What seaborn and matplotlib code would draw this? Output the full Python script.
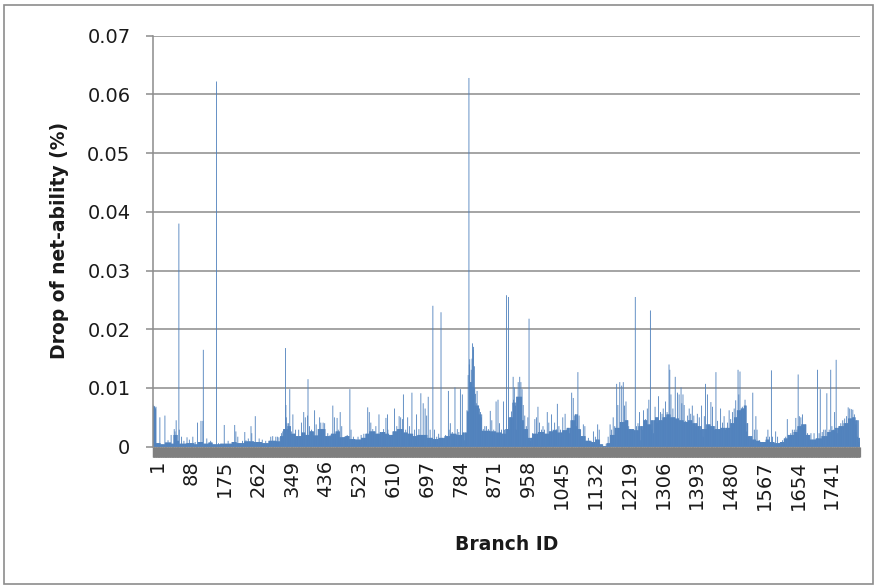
import numpy as np
import pandas as pd
import matplotlib
matplotlib.use("Agg")
import matplotlib.pyplot as plt
import seaborn as sns
from matplotlib.patches import Rectangle
import matplotlib.transforms as mtransforms

# ---------------- data (values in units of 1e-4 %) ----------------
N_BRANCH = 1824
tick_ids = list(range(1, 1742, 87))
y_ticks = [0, 0.01, 0.02, 0.03, 0.04, 0.05, 0.06, 0.07]
y_tick_labels = ["0", "0.01", "0.02", "0.03", "0.04", "0.05", "0.06", "0.07"]

# background level of consecutive runs of branches (run length, level)
run_lengths = [
    9, 11, 12, 15, 7, 8, 5, 20,
    20, 10, 12, 15, 10, 20,
    30, 12, 20, 25,
    20, 18, 20, 10, 8, 11,
    8, 12, 15, 10, 12, 10, 12, 8,
    10, 15, 12, 10, 15, 10, 15,
    15, 12, 10, 15, 12, 13, 10,
    10, 12, 15, 12, 13, 12, 13,
    12, 15, 15, 15, 15, 15,
    15, 12, 5, 8, 8, 10, 8, 21,
    15, 15, 10, 8, 10, 10, 14, 5,
    10, 12, 15, 15, 12, 12, 11,
    12, 12, 10, 10, 8, 8, 12, 15,
    10, 12, 8, 10, 8, 12, 14, 13,
    8, 15, 12, 12, 10, 10, 10, 10,
    10, 10, 10, 12, 10, 12, 12, 11,
    12, 12, 12, 10, 12, 15, 14,
    10, 10, 8, 10, 8, 6, 5, 10, 10, 10,
    15, 10, 12, 15, 10, 10, 15,
    10, 10, 12, 10, 15, 15, 15,
    10, 10, 10, 12, 12, 10, 8, 8, 4,
]
run_levels = [
    68, 6, 4, 7, 5, 20, 10, 5,
    6, 4, 8, 5, 7, 4,
    5, 8, 6, 9,
    8, 6, 10, 9, 18, 30,
    35, 22, 18, 24, 20, 26, 19, 30,
    30, 18, 22, 26, 16, 18, 13,
    12, 15, 22, 26, 22, 25, 22,
    20, 26, 30, 24, 22, 18, 20,
    20, 15, 13, 15, 18, 22,
    20, 24, 60, 110, 100, 70, 55, 27,
    26, 24, 22, 30, 50, 75, 85, 45,
    30, 15, 22, 25, 22, 26, 28,
    24, 28, 32, 45, 55, 30, 18, 10,
    8, 12, 4, 1, 6, 20, 32, 42,
    45, 30, 28, 35, 45, 38, 45, 50,
    45, 50, 55, 50, 48, 45, 42, 45,
    40, 35, 30, 38, 35, 30, 32,
    32, 40, 50, 62, 65, 70, 40, 18, 12, 10,
    8, 12, 8, 6, 8, 14, 20,
    25, 35, 38, 20, 12, 14, 18,
    25, 28, 32, 35, 40, 48, 50, 45, 15,
]

# individual branches that stand out from the background
peak_ids = [
    1, 3, 5, 7, 8, 19, 32, 40, 48, 56, 58, 61, 64, 68, 69, 75, 81,
    89, 95, 104, 110, 116, 125, 130, 131, 140, 150, 165, 170,
    185, 195, 205, 212, 215, 220, 232, 238, 241, 247, 254, 256,
    265, 275, 283, 292, 305, 310, 318, 322, 326, 333, 336, 343, 344, 345, 347,
    351, 354, 358, 362, 369, 377, 384, 390, 394, 400, 401, 405, 410, 418, 422, 427, 431, 434,
    440, 444, 452, 458, 465, 469, 476, 479, 484, 488, 495, 502, 509, 512, 518,
    530, 538, 545, 555, 559, 563, 568, 572, 576, 584, 590, 596, 602, 606, 607,
    613, 624, 630, 636, 640, 645, 647, 653, 658, 663, 669, 676, 681, 687, 692,
    698, 703, 707, 711, 716, 723, 727, 733, 738, 744, 750, 756, 763, 765, 768, 773, 780,
    786, 790, 794, 799, 805, 811, 814, 816, 817, 818, 820, 822, 824, 825, 827, 828, 830,
    833, 835, 837, 839, 843, 846, 848, 853, 857, 861, 866,
    871, 875, 880, 886, 891, 895, 900, 905, 908, 913, 914, 918, 920, 922, 926, 930, 931,
    933, 936, 938, 943, 947, 950, 953, 956,
    960, 964, 968, 971, 974, 980, 986, 990, 994, 998, 1003, 1007, 1011, 1018, 1022, 1029,
    1033, 1037, 1041, 1044,
    1048, 1052, 1058, 1064, 1068, 1075, 1081, 1085, 1089, 1093, 1097, 1100, 1104, 1111,
    1115, 1124, 1129,
    1137, 1142, 1148, 1152, 1170, 1175, 1180, 1184, 1188, 1192, 1197, 1200, 1205, 1210,
    1214, 1217,
    1221, 1228, 1236, 1245, 1248, 1252, 1256, 1259, 1263, 1266, 1271, 1276, 1280, 1284,
    1288, 1292, 1296, 1301, 1305,
    1310, 1314, 1317, 1323, 1327, 1332, 1334, 1337, 1342, 1345, 1348, 1351, 1354, 1358,
    1363, 1365, 1368, 1371, 1375, 1380, 1384, 1388, 1392,
    1396, 1401, 1405, 1410, 1413, 1416, 1420, 1423, 1426, 1431, 1435, 1440, 1444, 1449,
    1453, 1457, 1461, 1465, 1470, 1474, 1478,
    1483, 1487, 1491, 1496, 1500, 1504, 1510, 1512, 1515, 1521, 1528, 1532, 1536, 1543,
    1548, 1552, 1556, 1559, 1565,
    1583, 1587, 1591, 1596, 1599, 1607, 1612, 1625, 1633, 1637, 1642, 1646, 1650,
    1655, 1659, 1662, 1665, 1668, 1672, 1676, 1680, 1689, 1698, 1706, 1715, 1719, 1722,
    1727, 1731, 1735, 1739,
    1745, 1749, 1752, 1756, 1759, 1763, 1766, 1770, 1775, 1780, 1785, 1790, 1794, 1798,
    1802, 1806, 1810, 1814, 1818, 1822,
]
peak_vals = [
    72, 70, 69, 66, 64, 50, 53, 11, 20, 30, 26, 45, 20, 380, 29, 17, 10,
    16, 12, 17, 8, 41, 44, 44, 165, 14, 10, 622, 6,
    37, 10, 8, 37, 26, 17, 10, 25, 11, 14, 35, 23,
    52, 14, 12, 10, 17, 18, 17, 17, 16, 23, 26, 168, 71, 50, 40,
    40, 98, 26, 55, 29, 29, 41, 59, 50, 53, 115, 35, 29, 62, 38, 30, 50, 41,
    41, 40, 23, 20, 70, 50, 49, 29, 59, 35, 17, 20, 98, 29, 17,
    17, 20, 22, 67, 59, 41, 30, 26, 35, 55, 23, 30, 49, 55, 29,
    17, 65, 35, 52, 50, 47, 89, 29, 50, 35, 92, 29, 55, 30, 91,
    74, 65, 53, 85, 29, 240, 29, 17, 22, 229, 14, 20, 95, 29, 40, 25, 101,
    30, 25, 98, 89, 11, 62, 122, 628, 140, 149, 110, 131, 150, 176, 165, 170, 137,
    90, 74, 95, 70, 65, 59, 50, 30, 35, 35, 30,
    61, 45, 29, 77, 80, 40, 29, 77, 29, 258, 30, 255, 29, 50, 60, 119, 80,
    101, 70, 29, 110, 119, 110, 98, 71,
    53, 35, 50, 218, 10, 23, 47, 50, 68, 41, 29, 35, 29, 59, 41, 55,
    29, 41, 30, 73,
    35, 29, 50, 56, 29, 23, 92, 83, 53, 35, 127, 53, 29, 38,
    35, 15, 8,
    26, 17, 38, 29, 5, 17, 38, 29, 50, 35, 107, 71, 110, 104,
    110, 70,
    77, 35, 29, 255, 35, 40, 59, 11, 29, 62, 47, 65, 80, 232,
    29, 23, 68, 41, 86,
    59, 56, 65, 77, 59, 140, 131, 89, 65, 50, 119, 47, 92, 89,
    101, 74, 89, 71, 44, 53, 65, 56, 70,
    53, 35, 56, 50, 29, 70, 17, 52, 107, 89, 35, 76, 68, 29,
    127, 44, 29, 65, 41, 52, 29,
    41, 62, 47, 59, 65, 79, 131, 89, 128, 68, 80, 26, 17, 14,
    92, 29, 52, 29, 11,
    17, 29, 17, 130, 17, 26, 17, 11, 17, 47, 17, 23, 29,
    29, 49, 29, 123, 52, 50, 55, 32, 23, 23, 23, 131, 23, 98,
    25, 29, 29, 91,
    29, 131, 35, 29, 59, 148, 23, 35, 40, 45, 48, 52, 67, 65,
    64, 63, 55, 38, 17, 8,
]

assert sum(run_lengths) == N_BRANCH
assert len(run_lengths) == len(run_levels)
assert len(peak_ids) == len(peak_vals)

branch_ids = np.arange(1, N_BRANCH + 1)
drop = np.repeat(np.array(run_levels, float), run_lengths)
drop[np.array(peak_ids) - 1] = peak_vals
drop = drop * 1e-4

df = pd.DataFrame({"Branch ID": branch_ids, "Drop": drop})

# ---------------- style ----------------
sns.set_theme(style="white")
plt.rcParams["font.family"] = ["DejaVu Sans"]

GRID = "#8c8c8c"
BAR = "#4F81BD"

W, H = 878, 588
fig = plt.figure(figsize=(W / 100, H / 100), dpi=100)
x0, x1 = 152.7, 860.0
y_top, y_zero = 35.7, 446.7
ax = fig.add_axes([x0 / W, 1 - y_zero / H, (x1 - x0) / W, (y_zero - y_top) / H])

# bars are ~0.39 px apart; draw them a little wider so single spikes stay visible
sns.barplot(data=df, x="Branch ID", y="Drop", native_scale=True, width=2.2,
            color=BAR, saturation=1, errorbar=None, linewidth=0,
            edgecolor="none", ax=ax)
for p in ax.patches:
    p.set_snap(False)
    p.set_antialiased(True)

ax.set_xlim(0.5, N_BRANCH + 0.5)
ax.set_ylim(0, 0.07)

ax.set_yticks(y_ticks)
ax.set_yticklabels(y_tick_labels)
ax.set_xticks(tick_ids)
ax.set_xticklabels([str(t) for t in tick_ids], rotation=90)
ax.set_xticks(branch_ids, minor=True)

ax.yaxis.grid(True, color=GRID, linewidth=1.1)
ax.xaxis.grid(False)
ax.set_axisbelow(True)

for s in ["top", "right", "bottom"]:
    ax.spines[s].set_visible(False)
ax.spines["left"].set_color(GRID)
ax.spines["left"].set_linewidth(1.1)

ax.tick_params(axis="y", which="major", direction="out", length=5, width=1.1,
               color=GRID, labelsize=14, pad=11, labelcolor="#1a1a1a", left=True)
ax.tick_params(axis="x", which="both", direction="out", length=7.5, width=0.9,
               color="#7f7f7f", bottom=True)
ax.tick_params(axis="x", which="major", labelsize=14, pad=2, labelcolor="#1a1a1a")

# Excel places rotated category labels slightly right of the tick
offset = mtransforms.ScaledTranslation(4 / 100, 0, fig.dpi_scale_trans)
for lbl in ax.get_xticklabels():
    lbl.set_transform(lbl.get_transform() + offset)

ax.set_xlabel("Branch ID", fontsize=13.5, fontweight="bold", color="#1a1a1a")
ax.set_ylabel("Drop of net-ability (%)", fontsize=13.5, fontweight="bold", color="#1a1a1a")
ax.xaxis.label.set_verticalalignment("center")
ax.yaxis.label.set_verticalalignment("center")
ax.xaxis.set_label_coords(0.5, (y_zero - 544) / (y_zero - y_top))
ax.yaxis.set_label_coords((59 - x0) / (x1 - x0), (y_zero - 240) / (y_zero - y_top))

# outer chart border
fig.patches.append(Rectangle((4 / W, 4 / H), 1 - 9 / W, 1 - 9 / H,
                             transform=fig.transFigure, fill=False,
                             edgecolor="#8c8c8c", linewidth=1.2))

fig.savefig("out.png", dpi=100)
